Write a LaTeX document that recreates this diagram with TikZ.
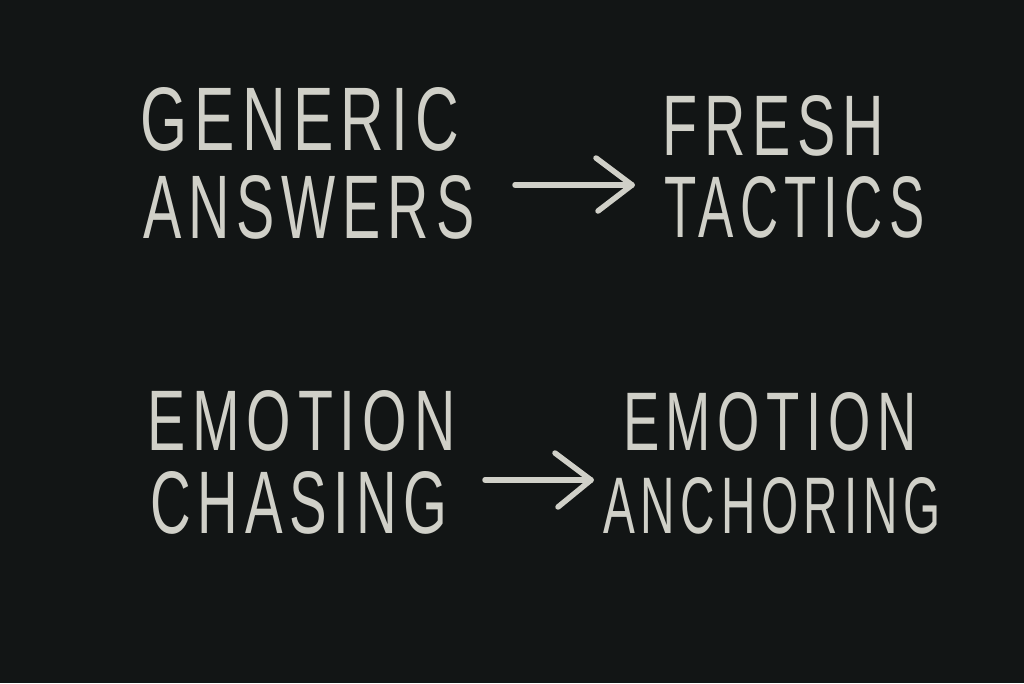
\documentclass[tikz,border=0pt]{standalone}
\usepackage{fontspec}
\setmainfont{Liberation Sans}[LetterSpace=12]
\usepackage{graphicx}
\definecolor{board}{RGB}{18,21,21}
\definecolor{chalk}{RGB}{208,208,200}
\tikzset{
  chalktext/.style={anchor=north west, inner sep=0pt, text=chalk},
  chalkline/.style={draw=chalk, line width=5.5pt, line cap=round, line join=round}
}
\newcommand{\fitword}[3]{\resizebox{#1pt}{#2pt}{#3}}
\begin{document}
\begin{tikzpicture}[x=1pt,y=-1pt]
\fill[board] (0,0) rectangle (1024,683);
\useasboundingbox (0,0) rectangle (1024,683);
\node[chalktext] (generic) at (140,87) {\fitword{319}{63}{GENERIC}};
\node[chalktext] (answers) at (143,175) {\fitword{331}{63}{ANSWERS}};
\node[chalktext] (fresh) at (662,95) {\fitword{222}{60}{FRESH}};
\node[chalktext] (tactics) at (664,176) {\fitword{260}{61}{TACTICS}};
\node[chalktext] (emotionL) at (147,390) {\fitword{308}{60}{EMOTION}};
\node[chalktext] (chasing) at (150,471) {\fitword{297}{62}{CHASING}};
\node[chalktext] (emotionR) at (623,392) {\fitword{293}{58}{EMOTION}};
\node[chalktext] (anchoring) at (603,477) {\fitword{337}{56}{ANCHORING}};
\coordinate (a1s) at (515,185);
\coordinate (a1e) at (632,185);
\coordinate (a2s) at (485,480);
\coordinate (a2e) at (591,480);
\draw[chalkline] (a1s) -- (a1e);
\draw[chalkline] ([shift={(-36,-27)}]a1e) -- (a1e) -- ([shift={(-34,26)}]a1e);
\draw[chalkline] (a2s) -- (a2e);
\draw[chalkline] ([shift={(-36,-27)}]a2e) -- (a2e) -- ([shift={(-33,27)}]a2e);
\end{tikzpicture}
\end{document}
